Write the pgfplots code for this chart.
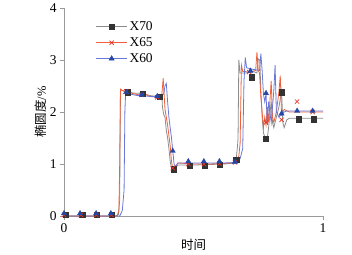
\documentclass[border=0pt]{standalone}
\usepackage{fontspec}
\setmainfont{Liberation Serif}
\newfontfamily\cjk{Noto Sans CJK SC}
\usepackage{pgfplots}
\pgfplotsset{compat=1.18}
\definecolor{cgray}{HTML}{8C8C8C}
\definecolor{caxis}{HTML}{9A9A9A}
\definecolor{cmark}{HTML}{333333}
\definecolor{corange}{HTML}{F0603A}
\definecolor{cred}{HTML}{E83020}
\definecolor{cblue}{HTML}{6A78D8}
\definecolor{cdblue}{HTML}{2448A8}
\begin{document}
\begin{tikzpicture}[font=\fontsize{13.5}{15}\selectfont]
\begin{axis}[name=ax,
  scale only axis, width=259bp, height=208bp,
  xmin=0, xmax=1, ymin=0, ymax=4,
  axis lines*=left,
  axis line style={caxis, line width=0.8pt},
  xtick={0,1}, ytick={0,1,2,3,4},
  tick style={caxis, line width=0.8pt},
  tick align=outside, major tick length=4bp,
  /pgf/number format/assume math mode=true,
  tick label style={font=\fontsize{13.5}{15}\selectfont},
  xlabel={\cjk 时间}, ylabel={{\cjk 椭圆度}/\%},
  label style={font=\fontsize{12.5}{14}\selectfont},
  ylabel shift=-4bp,
  clip=false,
  legend style={at={(0.118,0.95)}, anchor=north west, draw=none, fill=none,
    font=\fontsize{13.5}{15}\selectfont, row sep=1.5pt, inner sep=1pt},
  legend cell align=left,
]
% lines
\addplot[cgray, line width=0.8pt, forget plot] coordinates {
(0,0)(0.20,0)(0.21,0.03)(0.215,0.3)(0.218,2.42)(0.24,2.40)(0.26,2.37)(0.28,2.36)(0.30,2.36)(0.32,2.33)(0.34,2.31)(0.37,2.30)(0.378,2.30)(0.38,2.1)(0.385,1.95)(0.39,1.9)(0.395,1.65)(0.40,1.5)(0.405,1.3)(0.41,1.05)(0.415,0.92)(0.42,0.88)(0.43,0.93)(0.44,0.98)(0.50,0.98)(0.56,0.99)(0.62,1.0)(0.66,1.02)(0.665,1.1)(0.67,1.35)(0.672,1.5)(0.675,3.0)(0.68,2.75)(0.70,2.75)(0.73,2.78)(0.745,2.75)(0.75,3.02)(0.756,3.0)(0.76,2.4)(0.765,1.9)(0.77,1.6)(0.78,1.45)(0.785,1.5)(0.79,1.7)(0.80,2.2)(0.805,1.8)(0.81,1.7)(0.82,1.9)(0.83,2.1)(0.84,2.4)(0.845,1.8)(0.85,1.7)(0.86,1.85)(0.87,1.88)(1.0,1.88)};
\addplot[corange, line width=0.8pt, forget plot] coordinates {
(0,0)(0.205,0)(0.212,0.1)(0.215,1.0)(0.218,2.44)(0.23,2.40)(0.25,2.38)(0.27,2.35)(0.29,2.33)(0.31,2.36)(0.33,2.30)(0.37,2.28)(0.378,2.35)(0.383,2.65)(0.387,2.3)(0.39,2.05)(0.40,1.75)(0.41,1.35)(0.415,1.05)(0.42,0.92)(0.425,0.85)(0.43,0.95)(0.44,1.02)(0.50,1.0)(0.56,1.0)(0.62,1.01)(0.665,1.03)(0.675,1.15)(0.68,1.4)(0.685,2.9)(0.69,2.78)(0.72,2.77)(0.74,2.8)(0.745,3.15)(0.75,2.8)(0.755,2.75)(0.76,2.3)(0.765,2.0)(0.77,1.7)(0.775,1.9)(0.78,1.75)(0.785,2.1)(0.79,1.8)(0.80,2.6)(0.805,1.9)(0.81,1.8)(0.82,2.0)(0.83,2.4)(0.835,2.7)(0.84,1.95)(0.85,2.05)(0.87,2.0)(1.0,2.0)};
\addplot[cblue, line width=0.8pt, forget plot] coordinates {
(0,0)(0.215,0)(0.225,0.1)(0.232,0.5)(0.235,2.0)(0.238,2.38)(0.26,2.34)(0.28,2.32)(0.30,2.32)(0.33,2.30)(0.37,2.30)(0.385,2.35)(0.39,2.5)(0.395,2.55)(0.40,2.2)(0.405,1.9)(0.41,1.7)(0.415,1.5)(0.42,1.25)(0.425,1.0)(0.43,0.95)(0.44,1.02)(0.50,1.02)(0.56,1.02)(0.62,1.02)(0.665,1.03)(0.68,1.1)(0.69,1.3)(0.695,2.6)(0.70,3.05)(0.705,2.85)(0.73,2.82)(0.755,2.8)(0.76,3.12)(0.765,2.8)(0.77,2.35)(0.775,2.2)(0.78,2.35)(0.785,1.75)(0.79,2.2)(0.80,1.8)(0.81,2.4)(0.815,2.9)(0.82,2.0)(0.83,1.9)(0.84,1.97)(0.85,2.0)(0.86,2.02)(1.0,2.02)};
% markers
\addplot[only marks, mark=square*, mark size=2.6pt, mark options={draw=cmark, fill=cmark},
  legend image code/.code={\draw[cgray,line width=0.8pt] (0bp,0bp) -- (31bp,0bp);
    \draw[cmark,fill=cmark] plot[mark=square*, only marks, mark size=2.6pt] coordinates {(15.5bp,0bp)};}]
coordinates {(0.005,0.02)(0.07,0.02)(0.127,0.02)(0.185,0.02)(0.245,2.38)(0.305,2.35)(0.37,2.30)(0.425,0.9)(0.485,0.96)(0.543,0.97)(0.6,0.98)(0.665,1.08)(0.725,2.67)(0.78,1.48)(0.84,2.38)(0.905,1.86)(0.965,1.86)};
\addlegendentry{X70}
\addplot[only marks, mark=x, mark size=3pt, mark options={draw=cred, line width=0.7pt},
  legend image code/.code={\draw[corange,line width=0.8pt] (0bp,0bp) -- (31bp,0bp);
    \draw[cred,line width=0.7pt] plot[mark=x, only marks, mark size=3pt] coordinates {(15.5bp,0bp)};}]
coordinates {(0,0.02)(0.065,0.02)(0.125,0.02)(0.183,0.02)(0.24,2.40)(0.30,2.33)(0.36,2.28)(0.42,0.92)(0.48,1.0)(0.54,1.0)(0.60,1.01)(0.66,1.03)(0.715,2.77)(0.78,1.80)(0.84,1.85)(0.90,2.2)(0.96,2.0)};
\addlegendentry{X65}
\addplot[only marks, mark=triangle*, mark size=3pt, mark options={draw=cdblue, fill=cdblue},
  legend image code/.code={\draw[cblue,line width=0.8pt] (0bp,0bp) -- (31bp,0bp);
    \draw[cdblue,fill=cdblue] plot[mark=triangle*, only marks, mark size=3pt] coordinates {(15.5bp,0bp)};}]
coordinates {(0,0.05)(0.062,0.05)(0.124,0.05)(0.181,0.05)(0.24,2.38)(0.30,2.33)(0.36,2.30)(0.42,1.25)(0.48,1.05)(0.54,1.05)(0.60,1.05)(0.66,1.04)(0.72,2.79)(0.78,2.36)(0.84,1.97)(0.90,2.02)(0.96,2.02)};
\addlegendentry{X60}
\end{axis}
\path ([shift={(-64bp,-38bp)}]ax.south west) rectangle ++(352bp,254bp);
\end{tikzpicture}
\end{document}
